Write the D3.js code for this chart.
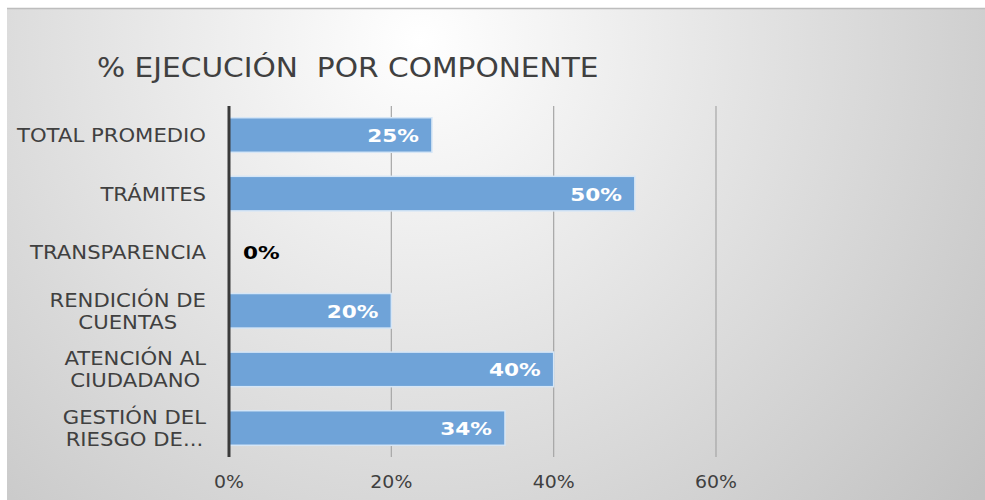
<!DOCTYPE html>
<html lang="en">
<head>
    <meta charset="UTF-8">
    <title>% Ejecución por componente</title>
    <script src="https://d3js.org/d3.v7.min.js"></script>
    <style>
        body { margin: 0; background: #fff; }
        .cat-label { font: 20px "DejaVu Sans", sans-serif; fill: #404040; }
        .tick-label { font: 18px "DejaVu Sans", sans-serif; fill: #404040; }
        .val-label { font: bold 18px "DejaVu Sans", sans-serif; }
        .title { font: 26px "DejaVu Sans", sans-serif; fill: #404040; }
    </style>
</head>
<body>
    <svg width="985" height="500"></svg>
    <script>
        // categories top to bottom, each is a list of label lines
        const categories = ["TOTAL PROMEDIO", "TRÁMITES", "TRANSPARENCIA", "RENDICIÓN DE CUENTAS", "ATENCIÓN AL CIUDADANO", "GESTIÓN DEL RIESGO DE CORRUPCIÓN"];
        const labelLines = [["TOTAL PROMEDIO"], ["TRÁMITES"], ["TRANSPARENCIA"], ["RENDICIÓN DE", "CUENTAS"], ["ATENCIÓN AL", "CIUDADANO"], ["GESTIÓN DEL", "RIESGO DE..."]];
        const values = [0.25, 0.50, 0, 0.20, 0.40, 0.34];
        const tickValues = [0, 0.2, 0.4, 0.6];
        const title = "% EJECUCIÓN  POR COMPONENTE";

        const svg = d3.select("svg");

        // background with soft radial gradient
        const defs = svg.append("defs");
        const grad = defs.append("radialGradient")
            .attr("id", "bg")
            .attr("gradientUnits", "userSpaceOnUse")
            .attr("cx", 420).attr("cy", 40).attr("r", 720);
        grad.append("stop").attr("offset", "0%").attr("stop-color", "#ffffff");
        grad.append("stop").attr("offset", "100%").attr("stop-color", "#c2c2c2");

        svg.append("rect").attr("x", 7).attr("y", 8).attr("width", 978).attr("height", 492)
            .attr("fill", "url(#bg)");
        svg.append("line").attr("x1", 7).attr("x2", 985).attr("y1", 8.5).attr("y2", 8.5)
            .attr("stroke", "#bdbdbd").attr("stroke-width", 1.5);

        // the original glyphs are wider than DejaVu, so stretch a little horizontally
        svg.append("text").attr("class", "title")
            .attr("transform", "translate(97,77) scale(1.14,1)")
            .style("white-space", "pre")
            .text(title);

        const x = d3.scaleLinear().domain([0, 0.6]).range([229, 716]);
        const y = d3.scaleBand().domain(categories).range([106, 457]).paddingInner(0.41).paddingOuter(0.2);

        // vertical gridlines
        svg.append("g").selectAll("line").data(tickValues.slice(1)).join("line")
            .attr("x1", d => x(d)).attr("x2", d => x(d))
            .attr("y1", 106).attr("y2", 457)
            .attr("stroke", "#a6a6a6").attr("stroke-width", 1.2);

        // tick labels
        svg.append("g").selectAll("text").data(tickValues).join("text")
            .attr("class", "tick-label")
            .attr("transform", d => `translate(${x(d)},488) scale(1.05,1)`)
            .attr("text-anchor", "middle")
            .text(d3.format(".0%"));

        const data = categories.map((c, i) => ({ cat: c, lines: labelLines[i], value: values[i] }));

        // bars
        svg.append("g").selectAll("rect").data(data).join("rect")
            .attr("x", x(0))
            .attr("y", d => y(d.cat))
            .attr("width", d => x(d.value) - x(0))
            .attr("height", y.bandwidth())
            .attr("fill", "#6fa3d8")
            .attr("stroke", "#d6e6f6")
            .attr("stroke-width", d => d.value > 0 ? 1.5 : 0);

        // axis line
        svg.append("line")
            .attr("x1", x(0)).attr("x2", x(0)).attr("y1", 106).attr("y2", 457)
            .attr("stroke", "#3a3a3a").attr("stroke-width", 3);

        // category labels: block right aligned, lines centred within block
        const labelRight = 206;
        const catScale = 1.06;
        const cat = svg.append("g").selectAll("text").data(data).join("text")
            .attr("class", "cat-label")
            .attr("text-anchor", "middle")
            .attr("transform", d => `translate(${labelRight},${y(d.cat) + y.bandwidth() / 2 - (d.lines.length - 1) * 11 + 7}) scale(${catScale},1)`);
        cat.each(function(d) {
            const t = d3.select(this);
            const spans = t.selectAll("tspan").data(d.lines).join("tspan")
                .attr("dy", (l, i) => i === 0 ? 0 : 22)
                .text(l => l);
            let w = 0;
            spans.each(function() { w = Math.max(w, this.getComputedTextLength()); });
            spans.attr("x", -w / 2);
        });

        // value labels
        svg.append("g").selectAll("text").data(data).join("text")
            .attr("class", "val-label")
            .attr("transform", d => `translate(${d.value > 0 ? x(d.value) - 13 : x(0) + 14},${y(d.cat) + y.bandwidth() / 2 + 7}) scale(1.2,1)`)
            .attr("text-anchor", d => d.value > 0 ? "end" : "start")
            .attr("fill", d => d.value > 0 ? "#ffffff" : "#000000")
            .text(d => d3.format(".0%")(d.value));
    </script>
</body>
</html>
